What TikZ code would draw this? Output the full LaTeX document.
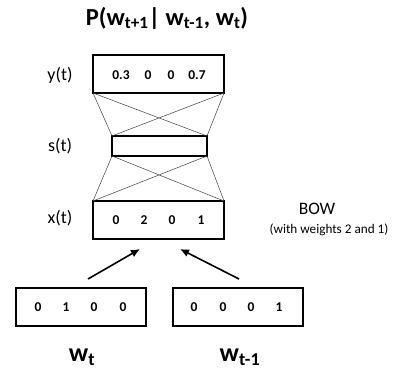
\documentclass[tikz,border=0pt]{standalone}
\usepackage{fontspec}
\setmainfont{Carlito}
\usetikzlibrary{arrows.meta}
\begin{document}
\begin{tikzpicture}[x=1pt,y=-1pt,
  vecbox/.style={draw,line width=2.6pt,inner sep=0pt},
  num/.style={font=\fontsize{13.5}{16}\selectfont\bfseries},
  lbl/.style={font=\fontsize{18}{21}\selectfont},
  wlbl/.style={font=\fontsize{26}{30}\selectfont\bfseries},
  link/.style={line width=0.5pt,draw=black!75},
  feed/.style={line width=1.6pt,-{Latex[length=9pt,width=8pt]}}]
\useasboundingbox (0,0) rectangle (393,375);

% title
\node[font=\fontsize{24.5}{29}\selectfont\bfseries] (title) at (167,18)
  {P(w\textsubscript{t+1}| w\textsubscript{t-1}, w\textsubscript{t})};

% hidden/output/input layers
\draw[vecbox] (93,55) rectangle (224,93);
\coordinate (ybl) at (93,93); \coordinate (ybr) at (224,93);
\draw[vecbox] (112,136) rectangle (207,156);
\coordinate (stl) at (112,136); \coordinate (str) at (207,136);
\coordinate (sbl) at (112,156); \coordinate (sbr) at (207,156);
\draw[vecbox] (93,201) rectangle (224,239);
\coordinate (xtl) at (93,201); \coordinate (xtr) at (224,201);
\coordinate (xin) at (140,249); \coordinate (xin2) at (180,249);

% full connections between layers
\draw[link] (ybl) -- (stl) (ybl) -- (str) (ybr) -- (stl) (ybr) -- (str);
\draw[link] (sbl) -- (xtl) (sbl) -- (xtr) (sbr) -- (xtl) (sbr) -- (xtr);

\node[lbl] (ylab) at (60,75) {y(t)};
\node[lbl] (slab) at (60,146) {s(t)};
\node[lbl] (xlab) at (60,218) {x(t)};

\node[num] (y1) at (121,75) {0.3};
\node[num] (y2) at (148,75) {0};
\node[num] (y3) at (171,75) {0};
\node[num] (y4) at (197,75) {0.7};

\node[num] (x1) at (116,220) {0};
\node[num] (x2) at (144,220) {2};
\node[num] (x3) at (172,220) {0};
\node[num] (x4) at (201,220) {1};

\node[font=\fontsize{17.5}{21}\selectfont] (bow) at (317,209) {BOW};
\node[font=\fontsize{13.2}{16}\selectfont] (bowc) at (329,230) {(with weights 2 and 1)};

% one-hot inputs
\draw[vecbox] (16,288) rectangle (146,326);
\draw[vecbox] (173,288) rectangle (303,326);
\coordinate (wa) at (88,279); \coordinate (wb) at (239,279);

\node[num] (a1) at (38,307) {0};
\node[num] (a2) at (66,307) {1};
\node[num] (a3) at (94,307) {0};
\node[num] (a4) at (123,307) {0};
\node[num] (b1) at (194,307) {0};
\node[num] (b2) at (223,307) {0};
\node[num] (b3) at (251,307) {0};
\node[num] (b4) at (279,307) {1};

\draw[feed] (wa) -- (xin);
\draw[feed] (wb) -- (xin2);

\node[wlbl] (wt) at (82,357) {w\textsubscript{t}};
\node[wlbl] (wt1) at (240,357) {w\textsubscript{t-1}};
\end{tikzpicture}
\end{document}
